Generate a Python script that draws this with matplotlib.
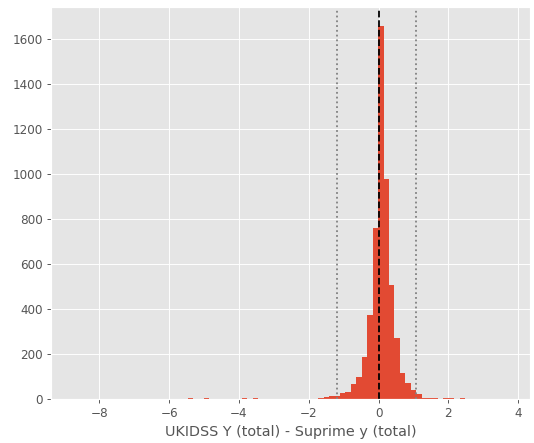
import numpy as np
import matplotlib
matplotlib.use("Agg")
import matplotlib.pyplot as plt

# histogram of Y - y (total) differences, 80 bins
bin_lo = -8.75
bin_hi = 3.73
n_bins = 80
counts = [
    1, 0, 0, 0, 0, 0, 0, 0, 0, 0,
    0, 0, 0, 0, 0, 0, 0, 0, 0, 0,
    0, 3, 0, 0, 3, 0, 0, 0, 0, 0,
    0, 3, 0, 3, 0, 0, 0, 0, 0, 0,
    0, 0, 0, 0, 0, 3, 11, 12, 13, 25,
    30, 65, 97, 185, 372, 760, 1660, 981, 507, 270,
    117, 71, 40, 22, 4, 3, 3, 0, 3, 3,
    0, 3, 0, 0, 0, 0, 0, 0, 0, 1,
]
centre_line = 0.0
clip_lines = [-1.2, 1.07]

plt.style.use('ggplot')
dpi = 86.4
fig = plt.figure(figsize=(534 / dpi, 443 / dpi), dpi=dpi)
ax = fig.add_axes([0.0964, 0.0993, 0.8970, 0.8842])

edges = np.linspace(bin_lo, bin_hi, n_bins + 1)
centres = 0.5 * (edges[:-1] + edges[1:])
ax.hist(centres, bins=edges, weights=counts)

ax.axvline(centre_line, color='k', linestyle='--', linewidth=1.5)
for x in clip_lines:
    ax.axvline(x, color='grey', linestyle=':', linewidth=1.5)

ax.set_xlabel('UKIDSS Y (total) - Suprime y (total)')

fig.savefig('out.png', dpi=dpi)
